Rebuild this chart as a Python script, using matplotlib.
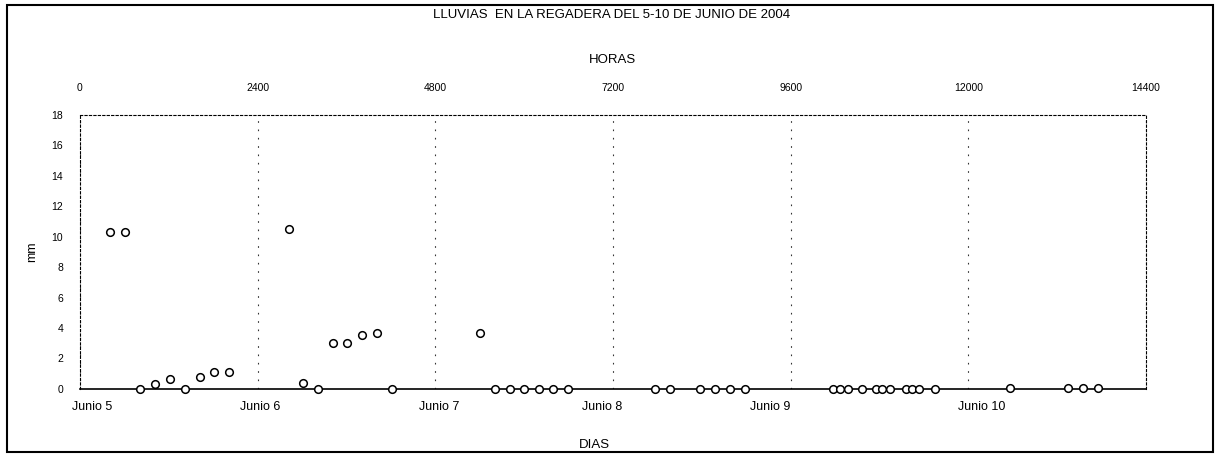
# Lluvias en la regadera, 5-10 de junio de 2004
import matplotlib.pyplot as plt
from matplotlib.patches import Rectangle

plt.rcParams['font.family'] = ['Liberation Sans', 'DejaVu Sans']

# tiempo en la escala HORAS y lluvia en mm
horas = [405, 608, 810, 1013, 1216, 1418, 1621, 1810, 2013,
         2823, 3012, 3215, 3418, 3607, 3809, 4012, 4215,
         5403, 5606, 5809, 5998, 6201, 6390, 6593,
         7767, 7970, 8375, 8578, 8780, 8983,
         10170, 10265, 10373, 10562, 10752, 10833, 10941, 11157, 11238, 11333, 11549,
         12562, 13345, 13548, 13751]
lluvia = [10.3, 10.3, 0.0, 0.35, 0.65, 0.0, 0.8, 1.1, 1.1,
          10.5, 0.4, 0.0, 3.0, 3.0, 3.55, 3.65, 0.0,
          3.7, 0.0, 0.0, 0.0, 0.0, 0.0, 0.0,
          0.0, 0.0, 0.0, 0.0, 0.0, 0.0,
          0.0, 0.0, 0.0, 0.0, 0.0, 0.0, 0.0, 0.0, 0.0, 0.0, 0.0,
          0.05, 0.05, 0.05, 0.05]

horas_ticks = [0, 2400, 4800, 7200, 9600, 12000, 14400]
dias_pos = [160, 2430, 4850, 7050, 9320, 12180]
dias = ['Junio 5', 'Junio 6', 'Junio 7', 'Junio 8', 'Junio 9', 'Junio 10']
mm_ticks = [0, 2, 4, 6, 8, 10, 12, 14, 16, 18]

fig = plt.figure(figsize=(12.19, 4.58), dpi=100)
ax = fig.add_axes([0.0656, 0.151, 0.8745, 0.598])

ax.plot(horas, lluvia, linestyle='none', marker='o', markersize=5.5,
        markerfacecolor='white', markeredgecolor='black', markeredgewidth=1.1,
        zorder=3, clip_on=False)

ax.set_xlim(0, 14400)
ax.set_ylim(0, 18)

# escala de horas arriba
ax.set_xticks(horas_ticks)
ax.set_xticklabels([str(h) for h in horas_ticks])
ax.tick_params(axis='x', top=False, bottom=False, labeltop=True, labelbottom=False,
               length=0, pad=16, labelsize=7.5)
ax.set_yticks(mm_ticks)
ax.tick_params(axis='y', length=0, pad=12, labelsize=7.5)

# dias abajo
sec = ax.secondary_xaxis('bottom')
sec.set_xticks(dias_pos)
sec.set_xticklabels(dias)
sec.tick_params(length=0, pad=9, labelsize=9)
sec.spines['bottom'].set_visible(False)

ax.grid(axis='x', color='black', linewidth=0.8, alpha=0.8, linestyle=(0, (1.5, 6)))

for s in ['top', 'left', 'right']:
    ax.spines[s].set_linestyle((0, (2, 2)))
    ax.spines[s].set_linewidth(0.8)
ax.spines['bottom'].set_linewidth(1.2)

ax.set_ylabel('mm', fontsize=9, labelpad=10)
ax.xaxis.set_label_position('top')
ax.set_xlabel('HORAS', fontsize=9.5, labelpad=14)
fig.text(0.488, 0.028, 'DIAS', ha='center', va='center', fontsize=9.5)
fig.text(0.502, 0.967, 'LLUVIAS  EN LA REGADERA DEL 5-10 DE JUNIO DE 2004',
         ha='center', va='center', fontsize=9.5)

# marco exterior
fig.patches.append(Rectangle((0.006, 0.013), 0.989, 0.975, transform=fig.transFigure,
                             fill=False, edgecolor='black', linewidth=1.5))

fig.savefig('out.png', dpi=100)
